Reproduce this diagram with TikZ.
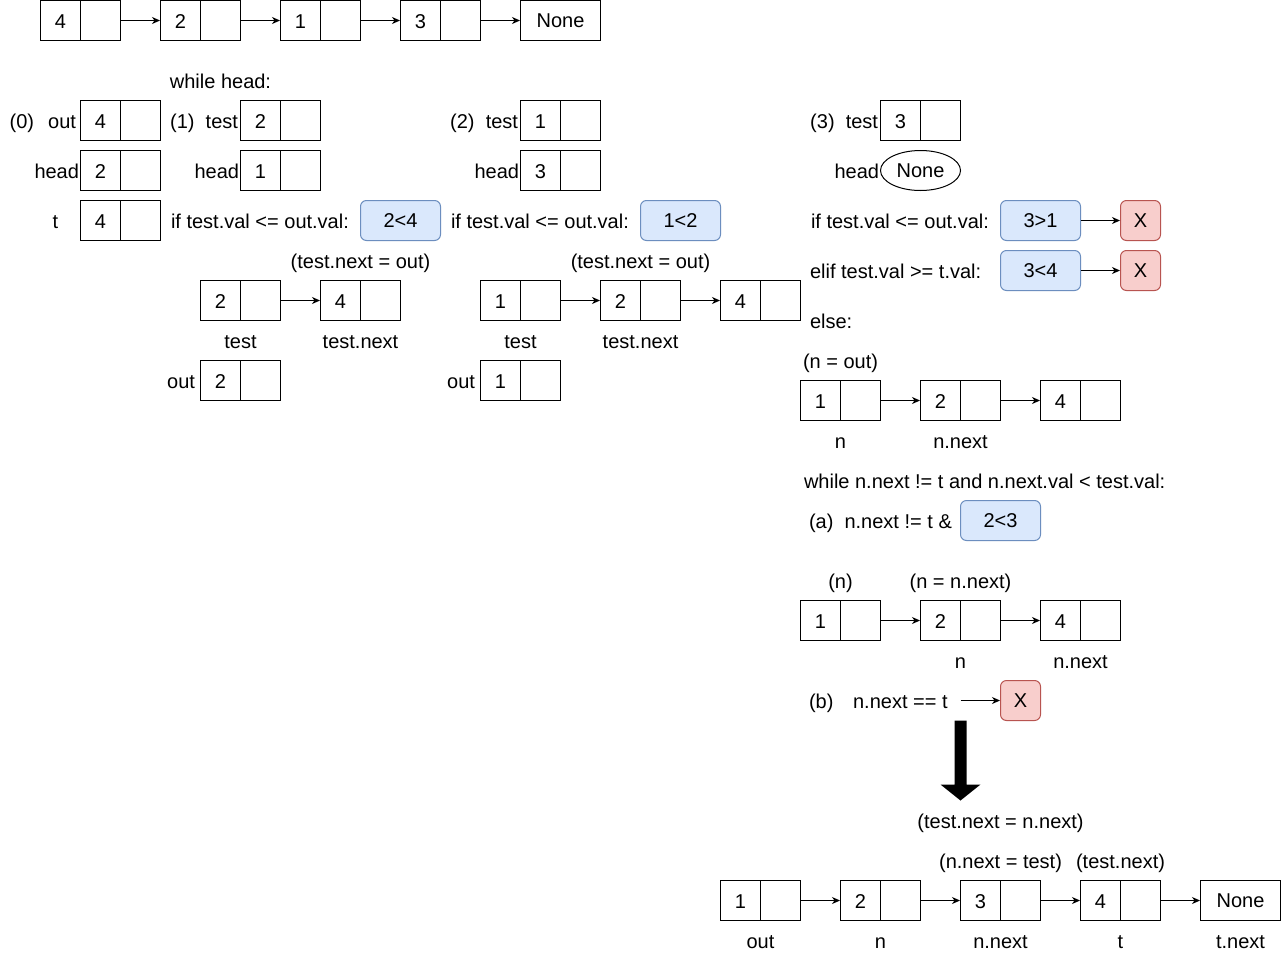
\documentclass[tikz,border=0pt]{standalone}
\usepackage{fontspec}
\setmainfont{Liberation Sans}
\usetikzlibrary{shapes.geometric,arrows.meta,calc}
\definecolor{bluefill}{HTML}{DAE8FC}
\definecolor{bluedraw}{HTML}{6C8EBF}
\definecolor{redfill}{HTML}{F8CECC}
\definecolor{reddraw}{HTML}{B85450}

% a list node: name, left x, top y, value
\newcommand{\llcell}[4]{%
  \node[cell] (#1) at (#2+40,#3+20) {};
  \node[txt] (#1-v) at (#2+20,#3+21) {#4};}

\begin{document}
\begin{tikzpicture}[x=1pt,y=-1pt,line width=1pt,
  every node/.style={font=\fontsize{20pt}{24pt}\selectfont},
  txt/.style={inner sep=0pt,text height=14.3pt,text depth=0pt},
  cell/.style={draw,minimum width=80pt,minimum height=40pt,inner sep=0pt,
    path picture={\draw[line width=1pt] (path picture bounding box.north) -- (path picture bounding box.south);}},
  nonebox/.style={draw,minimum width=80pt,minimum height=40pt,inner sep=0pt,text height=14.3pt,text depth=0pt},
  nonering/.style={draw,ellipse,minimum width=80pt,minimum height=40pt,inner sep=0pt,text height=14.3pt,text depth=0pt},
  cond/.style={draw=bluedraw,fill=bluefill,rounded corners=6pt,minimum width=80pt,minimum height=40pt,inner sep=0pt,text height=14.3pt,text depth=0pt},
  fail/.style={draw=reddraw,fill=redfill,rounded corners=6pt,minimum width=40pt,minimum height=40pt,inner sep=0pt,text height=14.3pt,text depth=0pt},
  arr/.style={-{Stealth[length=8pt,width=7pt,inset=2.5pt]},line width=1pt}]

\fill[white] (0,0) rectangle (1281,961);
\useasboundingbox (0,0) rectangle (1281,961);

\begin{scope}[shift={(0.5,0.5)}]
% input list
\llcell{t1}{40}{0}{4}
\llcell{t2}{160}{0}{2}
\llcell{t3}{280}{0}{1}
\llcell{t4}{400}{0}{3}
\node[nonebox] (t5) at (560,20) {None};
\draw[arr] (t1.east) -- (t2.west);
\draw[arr] (t2.east) -- (t3.west);
\draw[arr] (t3.east) -- (t4.west);
\draw[arr] (t4.east) -- (t5.west);

\node[txt] (whilehead) at (220,81) {while head:};

% step 0
\node[txt,anchor=east] (s0out) at (76,121) {(0)\ \ \hspace{3pt}out};
\llcell{s0a}{80}{100}{4}
\node[txt,anchor=east] (s0head) at (79,171) {head};
\llcell{s0b}{80}{150}{2}
\node[txt] (s0t) at (55,221) {t};
\llcell{s0c}{80}{200}{4}

% step 1
\node[txt,anchor=east] (s1test) at (238,121) {(1)\ \ test};
\llcell{s1a}{240}{100}{2}
\node[txt,anchor=east] (s1head) at (239,171) {head};
\llcell{s1b}{240}{150}{1}
\node[txt,anchor=west] (s1if) at (170,221) {if test.val <= out.val:};
\node[cond] (s1c) at (400,220) {2<4};
\node[txt] (s1set) at (360,261) {(test.next = out)};
\llcell{s1d}{200}{280}{2}
\llcell{s1e}{320}{280}{4}
\draw[arr] (s1d.east) -- (s1e.west);
\node[txt] (s1l1) at (240,341) {test};
\node[txt] (s1l2) at (360,341) {test.next};
\node[txt,anchor=east] (s1out) at (195,381) {out};
\llcell{s1f}{200}{360}{2}

% step 2
\node[txt,anchor=east] (s2test) at (518,121) {(2)\ \ test};
\llcell{s2a}{520}{100}{1}
\node[txt,anchor=east] (s2head) at (519,171) {head};
\llcell{s2b}{520}{150}{3}
\node[txt,anchor=west] (s2if) at (450,221) {if test.val <= out.val:};
\node[cond] (s2c) at (680,220) {1<2};
\node[txt] (s2set) at (640,261) {(test.next = out)};
\llcell{s2d}{480}{280}{1}
\llcell{s2e}{600}{280}{2}
\llcell{s2g}{720}{280}{4}
\draw[arr] (s2d.east) -- (s2e.west);
\draw[arr] (s2e.east) -- (s2g.west);
\node[txt] (s2l1) at (520,341) {test};
\node[txt] (s2l2) at (640,341) {test.next};
\node[txt,anchor=east] (s2out) at (475,381) {out};
\llcell{s2f}{480}{360}{1}

% step 3
\node[txt,anchor=east] (s3test) at (878,121) {(3)\ \ test};
\llcell{s3a}{880}{100}{3}
\node[txt,anchor=east] (s3head) at (879,171) {head};
\node[nonering] (s3b) at (920,170) {None};
\node[txt,anchor=west] (s3if) at (810,221) {if test.val <= out.val:};
\node[cond] (s3c1) at (1040,220) {3>1};
\node[fail] (s3x1) at (1140,220) {X};
\draw[arr] (s3c1.east) -- (s3x1.west);
\node[txt,anchor=west] (s3elif) at (809,271) {elif test.val >= t.val:};
\node[cond] (s3c2) at (1040,270) {3<4};
\node[fail] (s3x2) at (1140,270) {X};
\draw[arr] (s3c2.east) -- (s3x2.west);
\node[txt,anchor=west] (s3else) at (809,321) {else:};

\node[txt,anchor=west] (s3nout) at (802,361) {(n = out)};
\llcell{s3d}{800}{380}{1}
\llcell{s3e}{920}{380}{2}
\llcell{s3f}{1040}{380}{4}
\draw[arr] (s3d.east) -- (s3e.west);
\draw[arr] (s3e.east) -- (s3f.west);
\node[txt] (s3l1) at (840,441) {n};
\node[txt] (s3l2) at (960,441) {n.next};

\node[txt,anchor=west] (s3while) at (803,481) {while n.next != t and n.next.val < test.val:};
\node[txt,anchor=west] (s3a1) at (808,521) {(a)\ \ n.next != t \&};
\node[cond] (s3c3) at (1000,520) {2<3};

\node[txt] (s3n) at (840,581) {(n)};
\node[txt] (s3nn) at (960,581) {(n = n.next)};
\llcell{s3g}{800}{600}{1}
\llcell{s3h}{920}{600}{2}
\llcell{s3i}{1040}{600}{4}
\draw[arr] (s3g.east) -- (s3h.west);
\draw[arr] (s3h.east) -- (s3i.west);
\node[txt] (s3l3) at (960,661) {n};
\node[txt] (s3l4) at (1080,661) {n.next};

\node[txt,anchor=west] (s3b1) at (808,701) {(b)\ \ \ \hspace{3pt}n.next == t};
\coordinate (s3bend) at (960,700);
\node[fail] (s3x3) at (1020,700) {X};
\draw[arr] (s3bend) -- (s3x3.west);

% result arrow
\fill[black] (954,720) -- (966,720) -- (966,784) -- (980,784) -- (960,800)
  -- (940,784) -- (954,784) -- cycle;

% result list
\node[txt] (rset) at (1000,821) {(test.next = n.next)};
\node[txt] (rset2) at (1000,861) {(n.next = test)};
\node[txt] (rset3) at (1120,861) {(test.next)};
\llcell{r1}{720}{880}{1}
\llcell{r2}{840}{880}{2}
\llcell{r3}{960}{880}{3}
\llcell{r4}{1080}{880}{4}
\node[nonebox] (r5) at (1240,900) {None};
\draw[arr] (r1.east) -- (r2.west);
\draw[arr] (r2.east) -- (r3.west);
\draw[arr] (r3.east) -- (r4.west);
\draw[arr] (r4.east) -- (r5.west);
\node[txt] (rl1) at (760,941) {out};
\node[txt] (rl2) at (880,941) {n};
\node[txt] (rl3) at (1000,941) {n.next};
\node[txt] (rl4) at (1120,941) {t};
\node[txt] (rl5) at (1240,941) {t.next};
\end{scope}
\end{tikzpicture}
\end{document}
